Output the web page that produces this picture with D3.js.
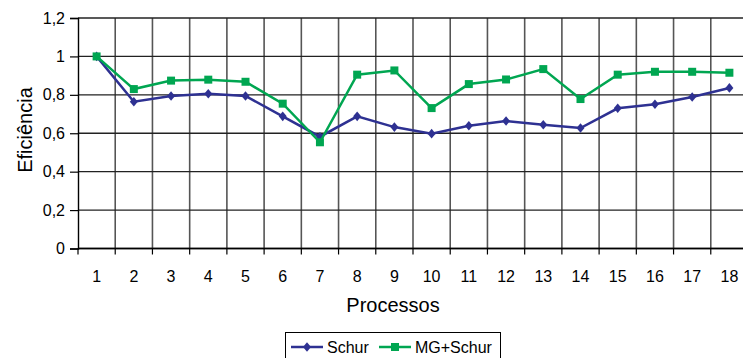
<!DOCTYPE html>
<html>
<head>
<meta charset="utf-8">
<script src="https://cdn.jsdelivr.net/npm/d3@7"></script>
<style>
  html, body { margin: 0; padding: 0; background: #fff; }
  svg { display: block; font-family: Arial, "Liberation Sans", sans-serif; }
</style>
</head>
<body>
<svg id="chart" width="743" height="358"></svg>
<script>
// Process counts on the x axis
const processos = [1, 2, 3, 4, 5, 6, 7, 8, 9, 10, 11, 12, 13, 14, 15, 16, 17, 18];
// Parallel efficiency per process count
const schur = [1.0, 0.764, 0.794, 0.806, 0.794, 0.688, 0.582, 0.688, 0.632, 0.598,
               0.639, 0.664, 0.644, 0.627, 0.730, 0.751, 0.789, 0.836];
const mgSchur = [1.0, 0.830, 0.874, 0.879, 0.868, 0.754, 0.553, 0.905, 0.927, 0.731,
                 0.856, 0.880, 0.934, 0.778, 0.905, 0.920, 0.920, 0.915];
const yTicks = [0, 0.2, 0.4, 0.6, 0.8, 1, 1.2];
const seriesNames = ["Schur", "MG+Schur"];
const seriesColors = ["#2e3192", "#00a651"];

const svg = d3.select("#chart");
const plot = { left: 78, top: 18, right: 748, bottom: 248.5 };

const x = d3.scaleBand().domain(processos).range([plot.left, plot.right]);
const y = d3.scaleLinear().domain([0, 1.2]).range([plot.bottom, plot.top]);
const fmt = v => String(v).replace(".", ",");

// Vertical grid at category boundaries
const bounds = processos.map(p => x(p)).concat([plot.right]);
svg.append("g").selectAll("line").data(bounds.slice(1)).join("line")
  .attr("x1", d => d).attr("x2", d => d)
  .attr("y1", plot.top).attr("y2", plot.bottom)
  .attr("stroke", "#555").attr("stroke-width", 1.6);

// Horizontal grid
svg.append("g").selectAll("line").data(yTicks).join("line")
  .attr("x1", plot.left).attr("x2", plot.right)
  .attr("y1", d => y(d)).attr("y2", d => y(d))
  .attr("stroke", "#222").attr("stroke-width", 1.4);

// Y axis
const yAxis = svg.append("g").attr("transform", `translate(${plot.left},0)`)
  .call(d3.axisLeft(y).tickValues(yTicks).tickSize(8).tickPadding(5).tickFormat(fmt));
yAxis.select(".domain").attr("stroke", "#000").attr("stroke-width", 1.4);
yAxis.selectAll(".tick line").attr("stroke", "#000").attr("stroke-width", 1.2);
yAxis.selectAll("text").attr("font-size", 16).attr("fill", "#000")
  .attr("font-family", "Arial, 'Liberation Sans', sans-serif");

// X axis: labels centred in bands, ticks at band boundaries
const xAxis = svg.append("g").attr("transform", `translate(0,${plot.bottom})`);
xAxis.append("line").attr("x1", plot.left).attr("x2", plot.right)
  .attr("stroke", "#000").attr("stroke-width", 1.6);
xAxis.selectAll("line.tk").data(bounds).join("line").attr("class", "tk")
  .attr("x1", d => d).attr("x2", d => d).attr("y1", 0).attr("y2", 6)
  .attr("stroke", "#000").attr("stroke-width", 1.2);
xAxis.selectAll("text").data(processos).join("text")
  .attr("x", d => x(d) + x.bandwidth() / 2).attr("y", 33)
  .attr("text-anchor", "middle").attr("font-size", 16).attr("fill", "#000")
  .text(d => d);

// Axis titles
svg.append("text").attr("x", 393).attr("y", 312).attr("text-anchor", "middle")
  .attr("font-size", 20).attr("fill", "#000").text("Processos");
svg.append("text").attr("transform", "translate(32,130) rotate(-90)")
  .attr("text-anchor", "middle").attr("font-size", 20).attr("fill", "#000").text("Eficiência");

// Series lines and markers
const cx = d => x(d) + x.bandwidth() / 2;
const line = d3.line().x((v, i) => cx(processos[i])).y(v => y(v));
const data = [schur, mgSchur];
const diamondPath = "M0,-4.8L4,0L0,4.8L-4,0Z";
const square = d3.symbol().type(d3.symbolSquare).size(64);

data.forEach((vals, s) => {
  svg.append("path").datum(vals).attr("d", line)
    .attr("fill", "none").attr("stroke", seriesColors[s]).attr("stroke-width", 2.5);
  svg.append("g").selectAll("path").data(vals).join("path")
    .attr("transform", (v, i) => `translate(${cx(processos[i])},${y(v)})`)
    .attr("d", s === 0 ? diamondPath : square())
    .attr("fill", seriesColors[s]);
});

// Legend
const lg = svg.append("g");
lg.append("rect").attr("x", 285.5).attr("y", 332.5).attr("width", 215).attr("height", 40)
  .attr("fill", "#fff").attr("stroke", "#000").attr("stroke-width", 1);
const items = [{ x1: 291, x2: 323, tx: 327 }, { x1: 379, x2: 411, tx: 415 }];
items.forEach((it, s) => {
  lg.append("line").attr("x1", it.x1).attr("x2", it.x2).attr("y1", 347).attr("y2", 347)
    .attr("stroke", seriesColors[s]).attr("stroke-width", 2.5);
  lg.append("path").attr("transform", `translate(${(it.x1 + it.x2) / 2},347)`)
    .attr("d", s === 0 ? diamondPath : square()).attr("fill", seriesColors[s]);
  lg.append("text").attr("x", it.tx).attr("y", 353).attr("font-size", 16).attr("fill", "#000")
    .text(seriesNames[s]);
});
</script>
</body>
</html>
